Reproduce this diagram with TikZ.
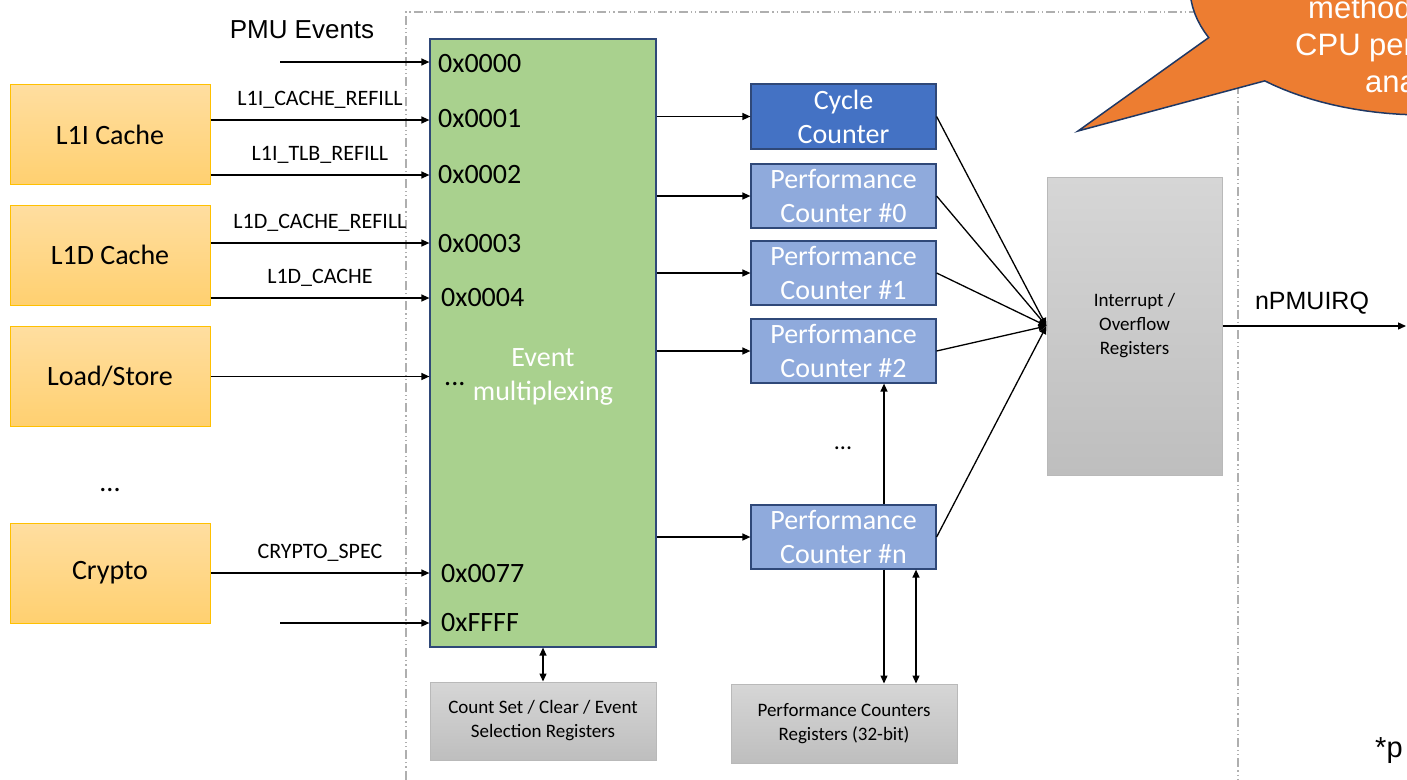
\documentclass[tikz,border=0pt]{standalone}
\usepackage{fontspec}
\setmainfont{Carlito}
\newfontfamily\arialf{Liberation Sans}
\usetikzlibrary{arrows.meta,calc}
\definecolor{orTop}{RGB}{255,222,160}
\definecolor{orBot}{RGB}{255,208,112}
\definecolor{orLine}{RGB}{255,192,0}
\definecolor{muxFill}{RGB}{169,209,142}
\definecolor{navyLine}{RGB}{47,72,120}
\definecolor{cycFill}{RGB}{68,114,196}
\definecolor{pcFill}{RGB}{143,170,220}
\definecolor{grTop}{RGB}{214,214,214}
\definecolor{grBot}{RGB}{190,190,190}
\definecolor{grLine}{RGB}{185,185,185}
\definecolor{frameGray}{RGB}{175,175,175}
\definecolor{callFill}{RGB}{237,125,49}
\definecolor{callLine}{RGB}{31,56,100}
\begin{document}
\begin{tikzpicture}[x=1pt,y=-1pt,
  arr/.style={line width=1.3pt,-{Triangle[length=8pt,width=7pt]}},
  darr/.style={line width=1.3pt,{Triangle[length=8pt,width=7pt]}-{Triangle[length=8pt,width=7pt]}},
  srcbox/.style={draw=orLine,line width=1pt,top color=orTop,bottom color=orBot,
    minimum width=200pt,minimum height=100pt,inner sep=0pt,font=\fontsize{28}{34}\selectfont},
  ctrbox/.style={draw=navyLine,line width=1.2pt,minimum width=185pt,minimum height=64pt,
    inner sep=0pt,text=white,align=center,font=\fontsize{28}{34}\selectfont},
  regbox/.style={draw=grLine,line width=1pt,top color=grTop,bottom color=grBot,
    inner sep=0pt,align=center,font=\fontsize{19}{24}\selectfont},
  hexlbl/.style={anchor=base west,inner sep=0pt,font=\fontsize{28}{34}\selectfont},
  siglbl/.style={pos=0.5,anchor=base,yshift=15pt,inner sep=0pt,font=\fontsize{22}{26}\selectfont},
  framel/.style={draw=frameGray,line width=1.2pt,dash pattern=on 9pt off 3pt on 1.2pt off 3pt on 1.2pt off 3pt},
  callout/.style={draw=callLine,line width=1.5pt,fill=callFill},
  calltext/.style={anchor=base west,inner sep=0pt,text=white,font=\arialf\fontsize{31}{37}\selectfont}]
\useasboundingbox (0,0) rectangle (1407,779);
\clip (0,0) rectangle (1407,779);

% frame
\draw[framel] (406,800) -- (406,12) -- (1238,12) -- (1238,800);

% source boxes
\node[srcbox] (l1i) at (110,134.5) {L1I Cache};
\node[srcbox] (l1d) at (110,255) {L1D Cache};
\node[srcbox] (ls) at (110,376.5) {Load/Store};
\node[srcbox] (cry) at (110,573) {Crypto};
\node[font=\fontsize{28}{34}\selectfont] (ldots) at (110,490) {...};

% mux
\node[draw=navyLine,fill=muxFill,line width=1.2pt,minimum width=226pt,minimum height=608pt,inner sep=0pt] (mux) at (543,343) {};
\node[text=white,align=center,font=\fontsize{28}{34}\selectfont] (evt) at (543,377) {Event\\multiplexing};
\node[hexlbl] (h0) at (438,72) {0x0000};
\node[hexlbl] (h1) at (438,127) {0x0001};
\node[hexlbl] (h2) at (438,183) {0x0002};
\node[hexlbl] (h3) at (438,252) {0x0003};
\node[hexlbl] (h4) at (441,306) {0x0004};
\node[hexlbl] (h5) at (444,385) {...};
\node[hexlbl] (h6) at (441,582) {0x0077};
\node[hexlbl] (h7) at (441,631) {0xFFFF};

% PMU events
\node[font=\arialf\fontsize{26}{30}\selectfont,inner sep=0pt] (pmu) at (302,30) {PMU Events};
\coordinate (pmuin) at (280,62);
\draw[arr] (pmuin) -- (mux.west |- pmuin);
\coordinate (ffin) at (280,623);
\draw[arr] (ffin) -- (mux.west |- ffin);

% signal arrows
\coordinate (y1) at (0,120);
\coordinate (y2) at (0,175);
\coordinate (y3) at (0,243);
\coordinate (y4) at (0,298);
\draw[arr] (l1i.east |- y1) -- (mux.west |- y1) node[siglbl] {L1I\_CACHE\_REFILL};
\draw[arr] (l1i.east |- y2) -- (mux.west |- y2) node[siglbl] {L1I\_TLB\_REFILL};
\draw[arr] (l1d.east |- y3) -- (mux.west |- y3) node[siglbl] {L1D\_CACHE\_REFILL};
\draw[arr] (l1d.east |- y4) -- (mux.west |- y4) node[siglbl] {L1D\_CACHE};
\draw[arr] (ls.east) -- (mux.west |- ls.east);
\draw[arr] (cry.east) -- (mux.west |- cry.east) node[siglbl] {CRYPTO\_SPEC};

% counters
\node[ctrbox,fill=cycFill,minimum height=65pt] (cyc) at (843.5,116.5) {Cycle\\Counter};
\node[ctrbox,fill=pcFill] (pc0) at (843.5,196) {Performance\\Counter \#0};
\node[ctrbox,fill=pcFill] (pc1) at (843.5,273) {Performance\\Counter \#1};
\node[ctrbox,fill=pcFill] (pc2) at (843.5,351) {Performance\\Counter \#2};
\node[ctrbox,fill=pcFill] (pcn) at (843.5,537) {Performance\\Counter \#n};
\node[font=\fontsize{24}{28}\selectfont] (mdots) at (843,448) {...};

\draw[arr] (mux.east |- cyc.west) -- (cyc.west);
\draw[arr] (mux.east |- pc0.west) -- (pc0.west);
\draw[arr] (mux.east |- pc1.west) -- (pc1.west);
\draw[arr] (mux.east |- pc2.west) -- (pc2.west);
\draw[arr] (mux.east |- pcn.west) -- (pcn.west);

% interrupt box
\node[regbox,minimum width=175pt,minimum height=298pt] (irq) at (1134.5,326) {Interrupt /\\Overflow\\Registers};
\draw[arr] (cyc.east) -- (irq.west);
\draw[arr] (pc0.east) -- (irq.west);
\draw[arr] (pc1.east) -- (irq.west);
\draw[arr] (pc2.east) -- (irq.west);
\draw[arr] (pcn.east) -- (irq.west);

\coordinate (irqout) at (1406,326);
\draw[arr] (irq.east) -- (irqout);
\node[font=\arialf\fontsize{25}{28}\selectfont,inner sep=0pt] (npmu) at (1312,303) {nPMUIRQ};

% bottom register boxes
\node[regbox,minimum width=226pt,minimum height=78pt] (cset) at (543,721) {Count Set / Clear / Event\\Selection Registers};
\node[regbox,minimum width=226pt,minimum height=79pt] (regs) at (844,723.5) {Performance Counters\\Registers (32-bit)};
\draw[darr] (mux.south) -- (cset.north);
\draw[arr] ([xshift=40.5pt]pcn.north) -- ([xshift=40.5pt]pc2.south);
\draw[arr] ([xshift=40.5pt]pcn.south) -- ([xshift=40.5pt]pcn.south |- regs.north);
\draw[darr] ([xshift=72.5pt]pcn.south) -- ([xshift=72.5pt]pcn.south |- regs.north);

% callout
\draw[callout] (1078,131) -- plot[domain=133:-203,samples=120] ({1425+235*cos(\x)},{-12+127*sin(\x)}) -- cycle;
\node[calltext] (c1) at (1308,18) {methodology for};
\node[calltext] (c2) at (1295,55) {CPU performance};
\node[calltext] (c3) at (1365,92) {analysis};

% footnote
\node[anchor=base west,inner sep=0pt,font=\arialf\fontsize{29}{34}\selectfont] (foot) at (1375,757) {*p};
\end{tikzpicture}
\end{document}
